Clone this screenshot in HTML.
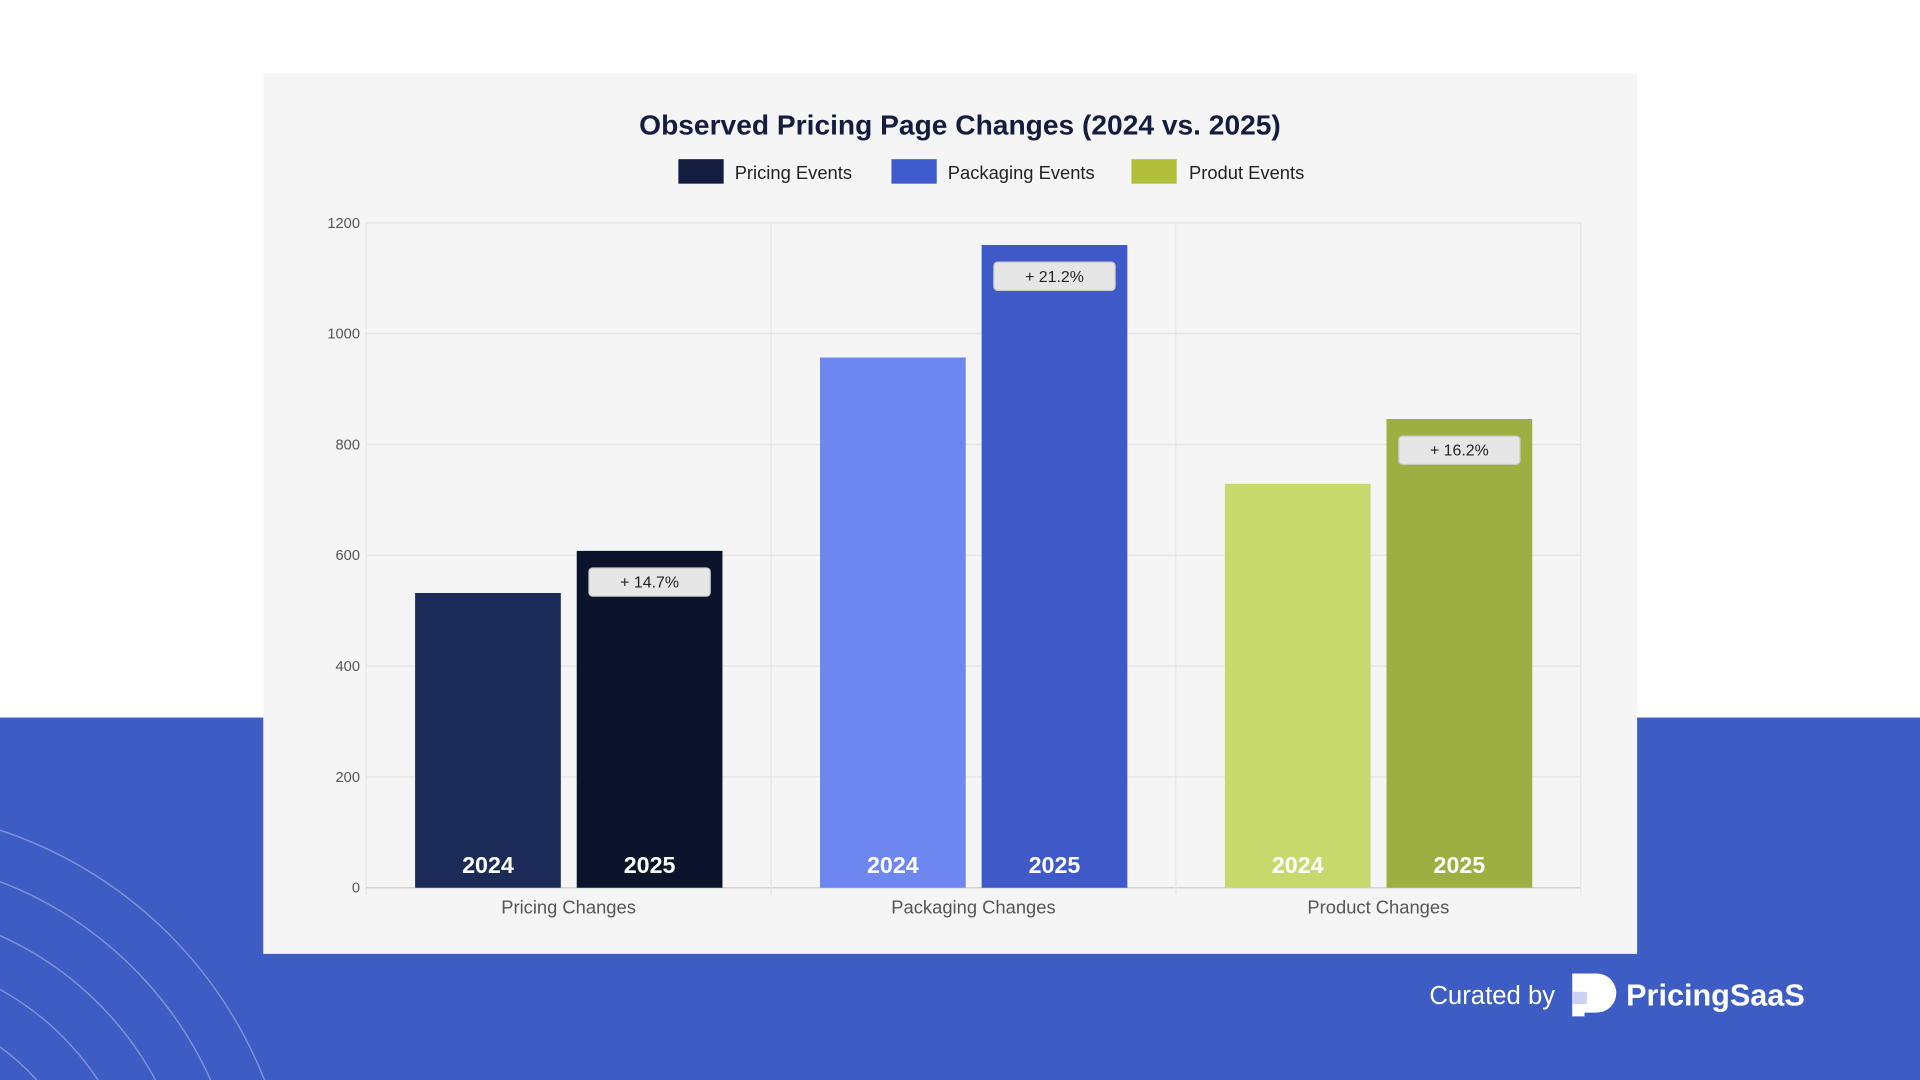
<!DOCTYPE html>
<html><head><meta charset="utf-8"><style>
html,body{margin:0;padding:0;width:1920px;height:1080px;overflow:hidden;background:#fff;font-family:"Liberation Sans",sans-serif;}
svg{display:block;position:absolute;left:0;top:0;}
</style></head><body>
<svg width="1920" height="1080" viewBox="0 0 1568 882" preserveAspectRatio="none">
<rect x="0" y="0" width="1568" height="586" fill="#ffffff"/>
<rect x="0" y="586" width="1568" height="296" fill="#3d5dc4"/>
<g fill="none" stroke="#7f92d4" stroke-width="1.2">
<path d="M0 855 A190 190 0 0 1 30 882"/>
<path d="M0 808 A230 230 0 0 1 80 882"/>
<path d="M0 764 A270 270 0 0 1 127 882"/>
<path d="M0 720 A310 310 0 0 1 172 882"/>
<path d="M0 678 A350 350 0 0 1 216 882"/>
</g>
<rect x="215" y="60" width="1122" height="719" fill="#f5f5f5"/>
<text x="784" y="110" text-anchor="middle" font-size="23" font-weight="bold" fill="#141d3f">Observed Pricing Page Changes (2024 vs. 2025)</text>
<g font-size="15" fill="#222">
<g><rect x="554" y="130" width="37" height="20" fill="#141d3f"/><text x="600" y="146">Pricing Events</text></g>
<g><rect x="728" y="130" width="37" height="20" fill="#3f5ccc"/><text x="774" y="146">Packaging Events</text></g>
<g><rect x="924" y="130" width="37" height="20" fill="#b1bf3a"/><text x="971" y="146">Produt Events</text></g>
</g>
<g id="plot"></g>
<text x="1270" y="820" text-anchor="end" font-size="21" fill="#fff">Curated by</text>
<g>
<path d="M1284 795 h20 a16 16 0 0 1 0 32 h-10 v3 h-10 z" fill="#fff"/>
<rect x="1284" y="810" width="12" height="10" fill="#c9d2f0"/>
<text x="1328" y="821" font-size="25" font-weight="bold" fill="#fff">PricingSaaS</text>
</g>
</svg>
<script>
const categories = ["Pricing Changes","Packaging Changes","Product Changes"];
const values2024 = [532, 957, 729];
const values2025 = [608, 1160, 846];
const changeLabels = ["+ 14.7%","+ 21.2%","+ 16.2%"];
const yTicks = [0,200,400,600,800,1000,1200];
const yearLabels = ["2024","2025"];
const colors2024 = ["#1c2a57","#6e86f0","#c7d86d"];
const colors2025 = ["#0c142c","#3f59c8","#9daf40"];

const NS="http://www.w3.org/2000/svg";
const plot=document.getElementById('plot');
const X0=299,X1=1291,Y0=725,Y1=182,YMAX=1200;
const y=v=>Y0-(v/YMAX)*(Y0-Y1);
const bandW=(X1-X0)/categories.length;
const xBand=i=>X0+i*bandW;
function mk(tag,attrs,parent){const e=document.createElementNS(NS,tag);for(const k in attrs)e.setAttribute(k,attrs[k]);(parent||plot).appendChild(e);return e;}
yTicks.forEach(t=>{
  const l=mk('line',{x1:X0,x2:X1,y1:y(t),y2:y(t),stroke:t===0?'#cfcfcf':'#e4e4e4','stroke-width':1});
  
  
  const tx=mk('text',{x:X0-5,y:y(t)+4,'text-anchor':'end','font-size':12,fill:'#555'});
  tx.textContent=t;
  
  
});
for(let i=0;i<=categories.length;i++){
  const l=mk('line',{x1:xBand(i),x2:xBand(i),y1:Y1,y2:Y0+6,stroke:'#e4e4e4','stroke-width':1});
  
  
}
categories.forEach((c,i)=>{
  const bx=xBand(i);
  const series=[[values2024[i],colors2024[i],bx+40],[values2025[i],colors2025[i],bx+172]];
  series.forEach((s,j)=>{
    const r=mk('rect',{x:s[2],y:y(s[0]),width:119,height:Y0-y(s[0]),fill:s[1]});
    
    
    const t=mk('text',{x:s[2]+59.5,y:Y0-12,'text-anchor':'middle','font-size':19,'font-weight':'bold',fill:'#fff'});
    t.textContent=yearLabels[j];
    
    
  });
  const bx2=bx+172, top=y(values2025[i]);
  const b=mk('rect',{x:bx2+10,y:top+14,width:99,height:23,rx:3,fill:'#e6e6e6',stroke:'#cccccc'});
  
  
  const bt=mk('text',{x:bx2+59.5,y:top+30,'text-anchor':'middle','font-size':13,fill:'#222'});
  bt.textContent=changeLabels[i];
  
  
  const ct=mk('text',{x:bx+bandW/2,y:Y0+21,'text-anchor':'middle','font-size':15,fill:'#555'});
  ct.textContent=c;
  
  
});
</script>
</body></html>
